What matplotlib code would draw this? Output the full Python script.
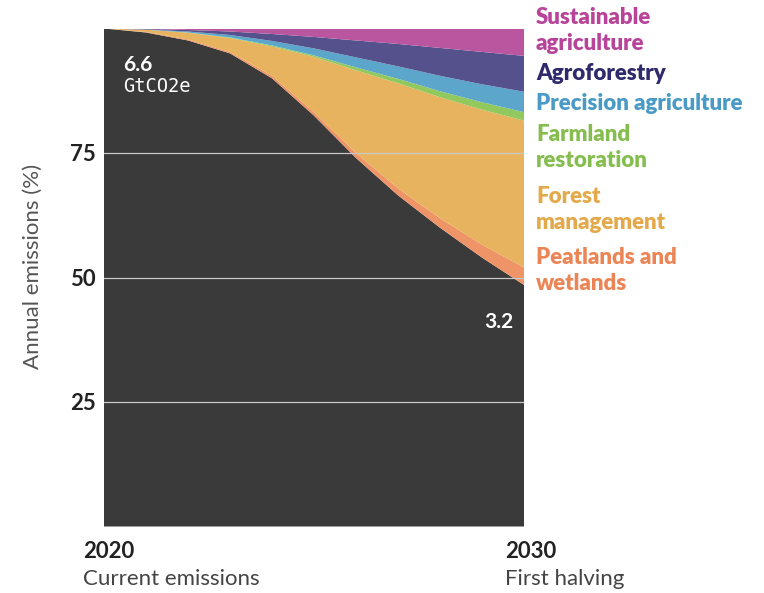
import matplotlib
matplotlib.use('Agg')
import matplotlib.pyplot as plt

# Years on the x axis
years = [2020, 2021, 2022, 2023, 2024, 2025, 2026, 2027, 2028, 2029, 2030]

# Stacked shares of 2020 emissions (%), bottom to top
remaining = [100, 99.2, 97.6, 95.0, 90.0, 82.5, 74.0, 66.5, 60.0, 54.0, 48.5]
peatlands = [0, 0.1, 0.2, 0.3, 0.5, 0.7, 1.0, 1.4, 1.9, 2.6, 3.5]
forest = [0, 0.45, 1.35, 2.8, 5.9, 11.1, 16.6, 21.1, 24.3, 27.1, 29.5]
farmland = [0, 0, 0.05, 0.1, 0.2, 0.3, 0.6, 0.9, 1.2, 1.5, 1.7]
precision = [0, 0.05, 0.2, 0.5, 0.9, 1.4, 2.0, 2.5, 3.1, 3.6, 4.1]
agroforestry = [0, 0.1, 0.3, 0.7, 1.4, 2.3, 3.4, 4.5, 5.6, 6.5, 7.2]
sustainable = [0, 0.1, 0.3, 0.6, 1.1, 1.7, 2.4, 3.1, 3.9, 4.7, 5.5]

fill_colors = ['#3a3a3a', '#ee9466', '#e8b35e', '#92c95f', '#5ca5cb', '#55518c', '#b9569f']
yticks = [25, 50, 75]

# label lines, colour, baseline of each line (figure pixels from top)
labels = [
    (['Sustainable', 'agriculture'], '#b8449a', [24, 50]),
    (['Agroforestry'], '#2e2a6b', [80]),
    (['Precision agriculture'], '#4a9ac6', [110]),
    (['Farmland', 'restoration'], '#86bd4f', [141, 167]),
    (['Forest', 'management'], '#e3a94a', [203, 229]),
    (['Peatlands and', 'wetlands'], '#ec8556', [264, 290]),
]

W, H = 764, 593
fig = plt.figure(figsize=(W / 100, H / 100), dpi=100)
ax = fig.add_axes([104 / W, (H - 526.5) / H, 420 / W, 498 / H])

ax.stackplot(years, remaining, peatlands, forest, farmland, precision,
             agroforestry, sustainable, colors=fill_colors, linewidth=0)
ax.set_xlim(2020, 2030)
ax.set_ylim(0, 100)

for y in yticks:
    ax.axhline(y, color='#c8c8c8', lw=0.9, zorder=3)

ax.set_yticks(yticks)
ax.set_yticklabels([str(v) for v in yticks], fontsize=16, fontweight='bold',
                   family='Lato', color='#222222')
ax.tick_params(axis='y', length=0, pad=6)
ax.set_xticks([])
for s in ax.spines.values():
    s.set_visible(False)

fig.text(33 / W, 1 - 266 / H, 'Annual emissions (%)', rotation=90, ha='center',
         va='center', fontsize=16, family='Lato', color='#555555')

# in-chart annotations
ax.text(2020.45, 92.6, '6.6', color='white', fontsize=15, fontweight='bold',
        family='Lato', va='center')
ax.text(2020.45, 88.3, 'GtCO2e', color='white', fontsize=13.5, family='DejaVu Sans Mono',
        va='center')
ax.text(2029.75, 41.0, '3.2', color='white', fontsize=15, fontweight='bold',
        family='Lato', ha='right', va='center')

# bottom year captions
fig.text(83 / W, 1 - 552 / H, '2020', fontsize=16, fontweight='bold', family='Lato',
         va='center', color='#222222')
fig.text(83 / W, 1 - 579 / H, 'Current emissions', fontsize=16, family='Lato',
         va='center', color='#444444')
fig.text(505 / W, 1 - 552 / H, '2030', fontsize=16, fontweight='bold', family='Lato',
         va='center', color='#222222')
fig.text(505 / W, 1 - 579 / H, 'First halving', fontsize=16, family='Lato',
         va='center', color='#444444')

# right-hand legend labels
for lines, col, bases in labels:
    for line, base in zip(lines, bases):
        fig.text(536 / W, 1 - base / H, line, color=col, fontsize=16,
                 fontweight='heavy', family='Lato', va='baseline')

fig.savefig('out.png', dpi=100)
